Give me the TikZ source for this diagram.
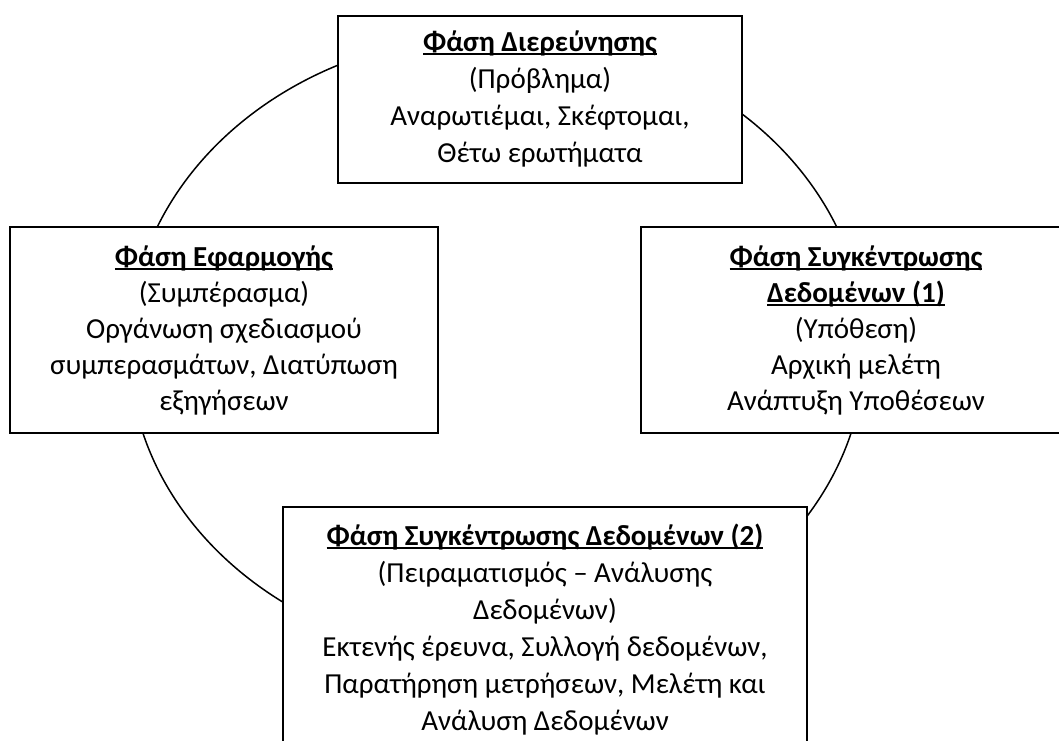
\documentclass[tikz,border=0pt]{standalone}
\usepackage{fontspec}
\setmainfont{Carlito}
\newcommand{\myul}[1]{\setbox0\hbox{\bfseries #1}\rlap{\rule[-3.5pt]{\wd0}{2pt}}\box0}
\begin{document}
\begin{tikzpicture}[x=1pt,y=-1pt,
  phase/.style={draw=black, line width=2pt, fill=white, align=center, inner sep=0pt,
    font=\fontsize{29}{36}\selectfont},
  ring/.style={draw=black, line width=1.5pt}]
\useasboundingbox (0,0) rectangle (1059,740);
\clip (0,0) rectangle (1059,740);
\draw[ring] (497,347.5) ellipse [x radius=368pt, y radius=313pt];
\node[phase, minimum width=404pt, minimum height=167pt, font=\fontsize{29}{37}\selectfont] (dier) at (540,99)
  {\myul{Φάση Διερεύνησης}\\(Πρόβλημα)\\Αναρωτιέμαι, Σκέφτομαι,\\Θέτω ερωτήματα};
\node[phase, minimum width=428pt, minimum height=206pt] (efar) at (224,330)
  {\myul{Φάση Εφαρμογής}\\(Συμπέρασμα)\\Οργάνωση σχεδιασμού\\συμπερασμάτων, Διατύπωση\\εξηγήσεων};
\node[phase, minimum width=430pt, minimum height=206pt] (syg1) at (856,330)
  {\myul{Φάση Συγκέντρωσης}\\\myul{Δεδομένων (1)}\\(Υπόθεση)\\Αρχική μελέτη\\Ανάπτυξη Υποθέσεων};
\node[phase, minimum width=524pt, minimum height=246pt, font=\fontsize{29}{37}\selectfont] (syg2) at (545,630)
  {\myul{Φάση Συγκέντρωσης Δεδομένων (2)}\\(Πειραματισμός – Ανάλυσης\\Δεδομένων)\\Εκτενής έρευνα, Συλλογή δεδομένων,\\Παρατήρηση μετρήσεων, Μελέτη και\\Ανάλυση Δεδομένων};
\end{tikzpicture}
\end{document}
